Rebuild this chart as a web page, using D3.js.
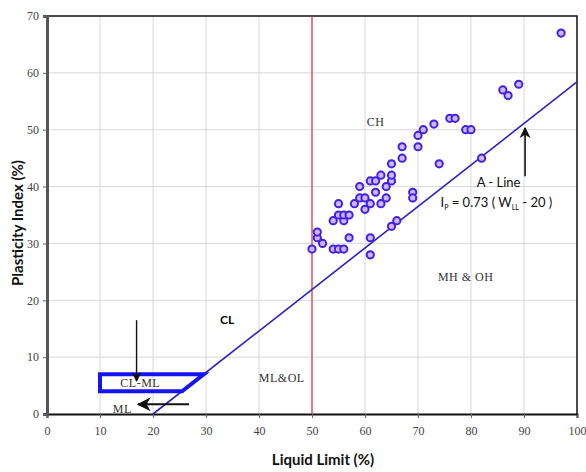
<!DOCTYPE html>
<html>
<head>
<meta charset="utf-8">
<script src="https://cdn.jsdelivr.net/npm/d3@7"></script>
<style>
  body { margin: 0; background: #fff; }
  svg { display: block; }
  .tick text { font-family: "Liberation Serif", "DejaVu Serif", serif; font-size: 12px; fill: #444; }
  .axis-title { font-family: Lato, "Open Sans", sans-serif; font-weight: 700; font-size: 15px; fill: #111; }
  .zone { font-family: "Liberation Serif", serif; font-size: 12px; fill: #333; letter-spacing: 0.5px; }
</style>
</head>
<body>
<div id="chart"></div>
<script>
// Liquid limit / plasticity index of samples
var liquidLimit = [50, 51, 51, 52, 54, 55, 56, 57, 54, 55, 55, 56, 56, 57, 58, 59, 59, 60, 60, 61,
  61, 62, 62, 63, 63, 64, 64, 65, 65, 65, 69, 69, 61, 61, 65, 66, 67, 67, 70, 70,
  71, 73, 76, 77, 79, 80, 74, 82, 86, 87, 89, 97];
var plasticityIndex = [29, 31, 32, 30, 29, 29, 29, 31, 34, 35, 37, 34, 35, 35, 37, 38, 40, 38, 36, 37,
  41, 41, 39, 42, 37, 40, 38, 41, 42, 44, 39, 38, 31, 28, 33, 34, 45, 47, 47, 49,
  50, 51, 52, 52, 50, 50, 44, 45, 57, 56, 58, 67];

var xTicks = [0, 10, 20, 30, 40, 50, 60, 70, 80, 90, 100];
var yTicks = [0, 10, 20, 30, 40, 50, 60, 70];

// A-line: Ip = 0.73 (WL - 20)
var aLineSlope = 0.73, aLineStart = 20;
var clmlLow = 4, clmlHigh = 7, clmlLeft = 10;

var width = 586, height = 472;
var margins = { top: 16, right: 9, bottom: 58, left: 47 };
var chartWidth = width - margins.left - margins.right;
var chartHeight = height - margins.top - margins.bottom;

var svg = d3.select("#chart").append("svg").attr("width", width).attr("height", height);

var defs = svg.append("defs");
defs.append("marker").attr("id", "head")
  .attr("viewBox", "0 0 10 10").attr("refX", 9).attr("refY", 5)
  .attr("markerWidth", 7).attr("markerHeight", 7).attr("orient", "auto-start-reverse")
  .append("path").attr("d", "M0,0 L10,5 L0,10 L3,5 z").attr("fill", "#111");

var chart = svg.append("g").attr("transform", `translate(${margins.left},${margins.top})`);

var xScale = d3.scaleLinear().domain([0, 100]).range([0, chartWidth]);
var yScale = d3.scaleLinear().domain([0, 70]).range([chartHeight, 0]);

// grid
chart.append("g").selectAll("line").data(xTicks.slice(1, -1)).enter().append("line")
  .attr("x1", d => xScale(d)).attr("x2", d => xScale(d))
  .attr("y1", 0).attr("y2", chartHeight)
  .attr("stroke", "#d9d9d9").attr("stroke-width", 1);
chart.append("g").selectAll("line").data(yTicks.slice(1, -1)).enter().append("line")
  .attr("x1", 0).attr("x2", chartWidth)
  .attr("y1", d => yScale(d)).attr("y2", d => yScale(d))
  .attr("stroke", "#d9d9d9").attr("stroke-width", 1);

// frame top/right
chart.append("path")
  .attr("d", `M0,${yScale(70)} H${xScale(100)} V${yScale(0)}`)
  .attr("fill", "none").attr("stroke", "#111").attr("stroke-width", 1.5);

// axes
var xAxis = d3.axisBottom(xScale).tickValues(xTicks).tickSize(4).tickPadding(8);
var yAxis = d3.axisLeft(yScale).tickValues(yTicks).tickSize(4).tickPadding(4);

var gx = chart.append("g").attr("transform", `translate(0,${chartHeight})`).call(xAxis);
gx.select(".domain").attr("stroke", "#111").attr("stroke-width", 2);
gx.selectAll(".tick line").attr("stroke", "#666");

var gy = chart.append("g").call(yAxis);
gy.select(".domain").attr("stroke", "#555").attr("stroke-width", 3);
gy.selectAll(".tick line").attr("stroke", "#666");

// W_L = 50 divider
chart.append("line")
  .attr("x1", xScale(50)).attr("x2", xScale(50))
  .attr("y1", yScale(0)).attr("y2", yScale(70))
  .attr("stroke", "#e8323c").attr("stroke-width", 1.2);

// A-line
chart.append("line")
  .attr("x1", xScale(aLineStart)).attr("y1", yScale(0))
  .attr("x2", xScale(100)).attr("y2", yScale(aLineSlope * (100 - aLineStart)))
  .attr("stroke", "#2a22c0").attr("stroke-width", 1.6);

// CL-ML zone
var xAtLow = aLineStart + clmlLow / aLineSlope;
var xAtHigh = aLineStart + clmlHigh / aLineSlope;
chart.append("path")
  .attr("d", d3.line()([
    [xScale(clmlLeft), yScale(clmlLow)],
    [xScale(clmlLeft), yScale(clmlHigh)],
    [xScale(xAtHigh), yScale(clmlHigh)],
    [xScale(xAtLow), yScale(clmlLow)],
  ]) + "Z")
  .attr("fill", "none").attr("stroke", "#1414f0").attr("stroke-width", 4)
  .attr("stroke-linejoin", "miter");

// arrows
chart.append("line")
  .attr("x1", xScale(16.9)).attr("y1", yScale(16.5))
  .attr("x2", xScale(16.9)).attr("y2", yScale(5.8))
  .attr("stroke", "#111").attr("stroke-width", 1.4).attr("marker-end", "url(#head)");
chart.append("line")
  .attr("x1", xScale(26.8)).attr("y1", yScale(1.7))
  .attr("x2", xScale(17.2)).attr("y2", yScale(1.7))
  .attr("stroke", "#111").attr("stroke-width", 2).attr("marker-end", "url(#head)");
chart.append("line")
  .attr("x1", xScale(90.2)).attr("y1", yScale(41.8))
  .attr("x2", xScale(90.2)).attr("y2", yScale(50.3))
  .attr("stroke", "#111").attr("stroke-width", 1.6).attr("marker-end", "url(#head)");

// points
chart.append("g").selectAll("circle").data(liquidLimit).enter().append("circle")
  .attr("cx", d => xScale(d))
  .attr("cy", (d, i) => yScale(plasticityIndex[i]))
  .attr("r", 3.6)
  .attr("fill", "#cfb4f8").attr("stroke", "#3f22e4").attr("stroke-width", 2);

// zone labels
var zones = [
  { t: "CH", x: 62, y: 51.4 },
  { t: "MH & OH", x: 79, y: 24.2 },
  { t: "ML&OL", x: 44.3, y: 6.3 },
  { t: "CL-ML", x: 17.6, y: 5.4 },
  { t: "ML", x: 14.2, y: 0.9 },
];
chart.append("g").selectAll("text").data(zones).enter().append("text")
  .attr("class", "zone")
  .attr("x", d => xScale(d.x)).attr("y", d => yScale(d.y))
  .attr("text-anchor", "middle").attr("dy", "0.35em")
  .text(d => d.t);

chart.append("text")
  .attr("x", xScale(34)).attr("y", yScale(16.5)).attr("dy", "0.35em")
  .attr("text-anchor", "middle")
  .style("font-family", "Lato, sans-serif").style("font-weight", 700).style("font-size", "12px")
  .text("CL");

chart.append("text")
  .attr("x", xScale(85.2)).attr("y", yScale(40.8)).attr("dy", "0.35em")
  .attr("text-anchor", "middle")
  .style("font-family", "Lato, sans-serif").style("font-size", "13px").style("fill", "#111")
  .text("A - Line");

var eq = chart.append("text")
  .attr("x", xScale(84.8)).attr("y", yScale(37.2)).attr("dy", "0.35em")
  .attr("text-anchor", "middle")
  .style("font-family", "Lato, sans-serif").style("font-size", "13px").style("fill", "#111");
eq.append("tspan").text("I");
eq.append("tspan").attr("dy", "3").style("font-size", "7px").text("P");
eq.append("tspan").attr("dy", "-3").text(" = 0.73 ( W");
eq.append("tspan").attr("dy", "3").style("font-size", "7px").text("LL");
eq.append("tspan").attr("dy", "-3").text(" - 20 )");

// axis titles
svg.append("text").attr("class", "axis-title")
  .attr("x", 323).attr("y", 465).attr("text-anchor", "middle")
  .text("Liquid Limit (%)");
svg.append("text").attr("class", "axis-title")
  .attr("transform", "translate(23,223) rotate(-90)").attr("text-anchor", "middle")
  .text("Plasticity Index (%)");
</script>
</body>
</html>
